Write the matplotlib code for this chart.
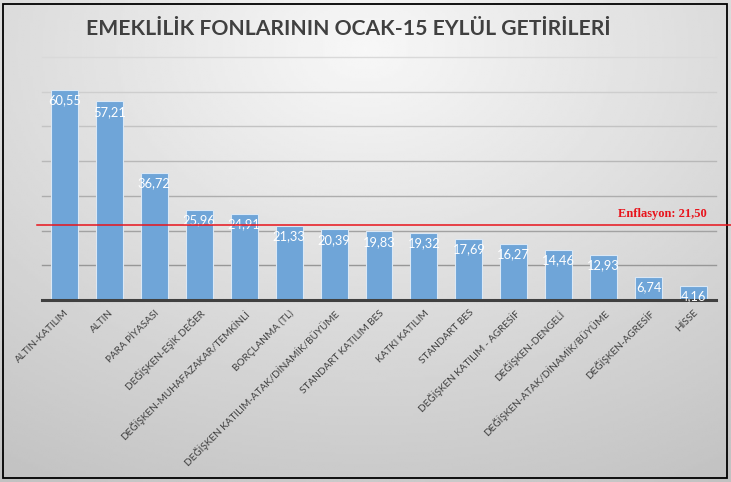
import numpy as np
import matplotlib
matplotlib.use("Agg")
import matplotlib.pyplot as plt

categories = ["ALTIN-KATILIM", "ALTIN", "PARA PİYASASI", "DEĞİŞKEN-EŞİK DEĞER",
              "DEĞİŞKEN-MUHAFAZAKAR/TEMKİNLİ", "BORÇLANMA (TL)",
              "DEĞİŞKEN KATILIM-ATAK/DİNAMİK/BÜYÜME", "STANDART KATILIM BES",
              "KATKI KATILIM", "STANDART BES", "DEĞİŞKEN KATILIM - AGRESİF",
              "DEĞİŞKEN-DENGELİ", "DEĞİŞKEN-ATAK/DİNAMİK/BÜYÜME",
              "DEĞİŞKEN-AGRESİF", "HİSSE"]
values = [60.55, 57.21, 36.72, 25.96, 24.91, 21.33, 20.39, 19.83, 19.32,
          17.69, 16.27, 14.46, 12.93, 6.74, 4.16]
inflation = 21.50
title = "EMEKLİLİK FONLARININ OCAK-15 EYLÜL GETİRİLERİ"
grid_levels = [10, 20, 30, 40, 50, 60, 70]

def tr(v):
    return f"{v:.2f}".replace(".", ",")

plt.rcParams['font.family'] = ['Lato', 'DejaVu Sans']

fig = plt.figure(figsize=(7.31, 4.82), dpi=100)
fig.patch.set_facecolor('#f2f2f2')

# background gradient
bg = fig.add_axes([0, 0, 1, 1], zorder=-10)
yy, xx = np.mgrid[0:1:200j, 0:1:300j]
d = np.sqrt(((xx - 0.5) / 0.9) ** 2 + ((yy - 0.1) / 1.0) ** 2)
img = 0.97 - 0.2 * np.clip(d, 0, 1.2)
bg.imshow(img, cmap='gray', vmin=0, vmax=1, extent=[0, 1, 0, 1], aspect='auto', origin='upper')
bg.set_xlim(0, 1); bg.set_ylim(0, 1)
bg.axis('off')
# frame
bg.add_patch(plt.Rectangle((3/731, 4/482), 724/731, 474/482, fill=False,
                           edgecolor='black', linewidth=1.3, transform=bg.transAxes))

ax = fig.add_axes([42/731, (482-300)/482, (716-42)/731, (300-57)/482])
ax.set_facecolor('none')
x = np.arange(len(categories))
ax.bar(x, values, width=0.6, color='#6fa5d8', edgecolor='#dbe8f5', linewidth=0.8, zorder=3)
ax.set_ylim(0, 70)
ax.set_xlim(-0.5, len(categories) - 0.5)
for g in grid_levels:
    shade = 0.55 + 0.30 * (g / 70.0)
    ax.axhline(g, color=(shade, shade, shade), linewidth=1.0, zorder=1, clip_on=False)
ax.set_yticks([])
ax.tick_params(axis='x', length=0, pad=6)
for s in ['top', 'right', 'left']:
    ax.spines[s].set_visible(False)
ax.spines['bottom'].set_color('#404040')
ax.spines['bottom'].set_linewidth(2.2)
ax.spines['bottom'].set_zorder(4)
ax.set_xticks(x)
ax.set_xticklabels(categories, rotation=45, ha='right', rotation_mode='anchor',
                   fontsize=7.2, color='#404040')

for xi, v in zip(x, values):
    ax.text(xi, v - 1.3, tr(v), ha='center', va='top', color='white', fontsize=9.3, zorder=5)

# inflation line
ax.plot([-0.62, 15.25], [inflation, inflation], color='#e8141c', linewidth=1.1,
        zorder=6, clip_on=False)
ax.text(14.3, inflation + 1.6, f"Enflasyon: {tr(inflation)}", ha='right', va='bottom',
        color='#e8141c', fontsize=9, fontweight='bold', family='Liberation Serif', zorder=6)

fig.text(0.477, 0.94, title, ha='center', va='center', fontsize=15.2,
         fontweight='bold', color='#404040')

fig.savefig('out.png', dpi=100)
